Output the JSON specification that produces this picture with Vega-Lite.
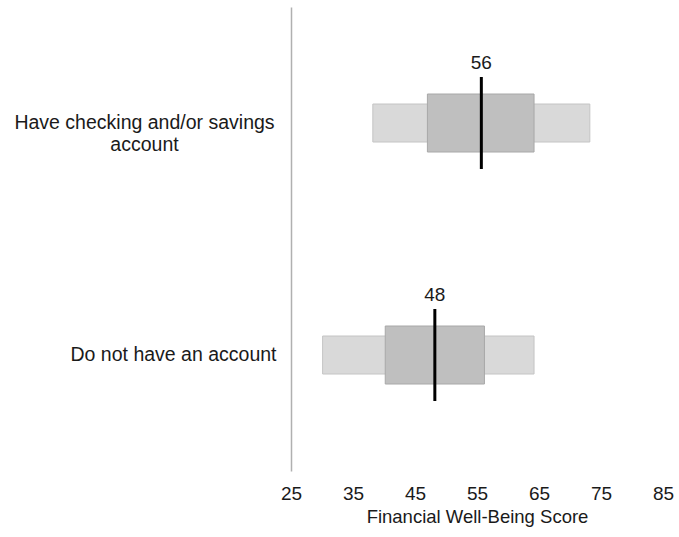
{
  "$schema": "https://vega.github.io/schema/vega-lite/v6.json",
  "autosize": {"type": "none"},
  "padding": {"left": 291, "top": 7, "right": 16, "bottom": 66},
  "width": 372,
  "height": 464,
  "background": "white",
  "config": {
    "view": {"stroke": null},
    "font": "Liberation Sans",
    "axis": {"labelFont": "Liberation Sans", "titleFont": "Liberation Sans", "labelColor": "#1a1a1a", "titleColor": "#1a1a1a", "titleFontWeight": "normal"}
  },
  "data": {
    "values": [
      {"group": "Have checking and/or savings account", "p10": 38.2, "p25": 47.0, "median": 55.7, "p75": 64.2, "p90": 73.2, "label": "56"},
      {"group": "Do not have an account", "p10": 30.1, "p25": 40.2, "median": 48.2, "p75": 56.2, "p90": 64.2, "label": "48"}
    ]
  },
  "encoding": {
    "y": {
      "field": "group",
      "type": "nominal",
      "sort": ["Have checking and/or savings account", "Do not have an account"],
      "scale": {"paddingInner": 0, "paddingOuter": 0},
      "title": null,
      "axis": {
        "domain": true,
        "domainColor": "#b0b0b0",
        "domainWidth": 1.5,
        "ticks": false,
        "tickSize": 0,
        "grid": false,
        "labelFontSize": 19.5,
        "labelLimit": 400,
        "labelLineHeight": 22,
        "labelBaseline": "middle",
        "labelExpr": "datum.value == 'Have checking and/or savings account' ? ['Have checking and/or savings', 'account'] : datum.value",
        "labelAlign": {"condition": {"test": "datum.value == 'Have checking and/or savings account'", "value": "center"}, "value": "right"},
        "labelPadding": {"condition": {"test": "datum.value == 'Have checking and/or savings account'", "value": 147}, "value": 15}
      }
    }
  },
  "layer": [
    {
      "mark": {"type": "bar", "size": 38, "color": "#d9d9d9", "stroke": "#c4c4c4", "strokeWidth": 1},
      "encoding": {
        "x": {
          "field": "p10",
          "type": "quantitative",
          "scale": {"domain": [25, 85], "nice": false, "zero": false},
          "axis": {
            "values": [25, 35, 45, 55, 65, 75, 85],
            "domain": false,
            "ticks": false,
            "grid": false,
            "labelFlush": false,
            "labelOverlap": false,
            "labelFontSize": 19,
            "labelPadding": 13,
            "title": "Financial Well-Being Score",
            "titleFontSize": 18.5,
            "titlePadding": 4
          }
        },
        "x2": {"field": "p90"}
      }
    },
    {
      "mark": {"type": "bar", "size": 58, "color": "#bfbfbf", "stroke": "#a8a8a8", "strokeWidth": 1},
      "encoding": {
        "x": {"field": "p25", "type": "quantitative"},
        "x2": {"field": "p75"}
      }
    },
    {
      "mark": {"type": "tick", "orient": "vertical", "size": 92, "thickness": 3, "color": "#000000", "opacity": 1},
      "encoding": {
        "x": {"field": "median", "type": "quantitative"}
      }
    },
    {
      "mark": {"type": "text", "fontSize": 19, "dy": -60, "baseline": "middle", "align": "center", "color": "#1a1a1a"},
      "encoding": {
        "x": {"field": "median", "type": "quantitative"},
        "text": {"field": "label"}
      }
    }
  ]
}
